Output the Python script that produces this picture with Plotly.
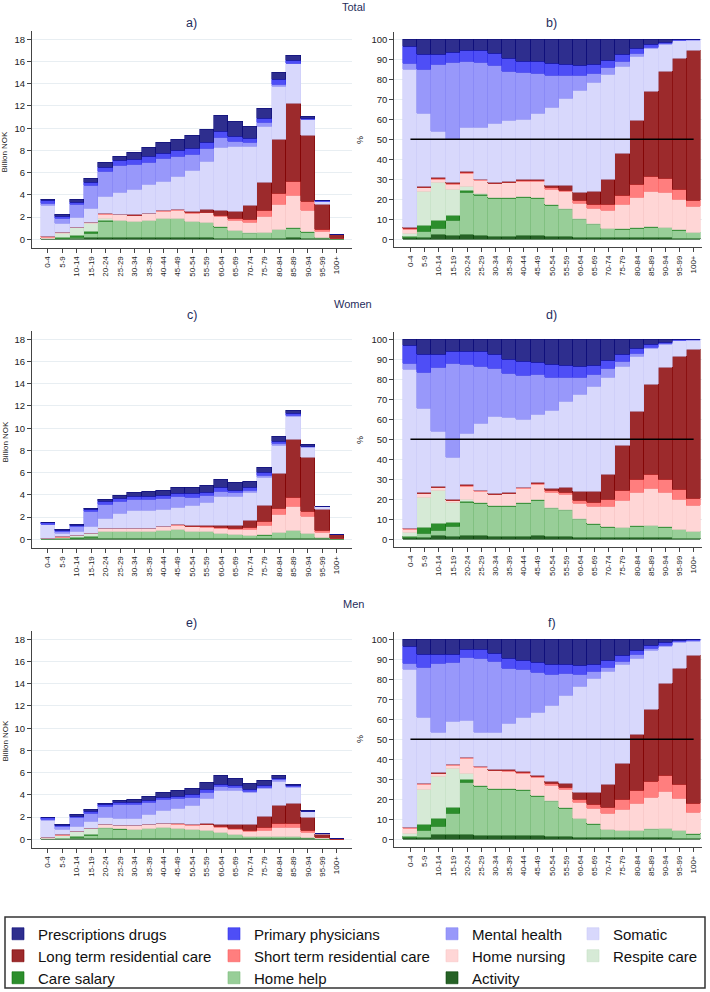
import plotly.graph_objects as go

W, H = 710, 992
FONT = "Arial, Liberation Sans, sans-serif"

ages = ["0-4", "5-9", "10-14", "15-19", "20-24", "25-29", "30-34", "35-39", "40-44",
        "45-49", "50-54", "55-59", "60-64", "65-69", "70-74", "75-79", "80-84",
        "85-89", "90-94", "95-99", "100+"]

# Layers, bottom to top of each stack
layers = ["Activity", "Home help", "Care salary", "Respite care", "Home nursing",
          "Short term residential care", "Long term residential care", "Somatic",
          "Mental health", "Primary physicians", "Prescriptions drugs"]

fill_colors = {
    "Activity": "rgb(38,98,38)",
    "Home help": "rgb(152,206,152)",
    "Care salary": "rgb(44,142,44)",
    "Respite care": "rgb(214,234,214)",
    "Home nursing": "rgb(255,214,214)",
    "Short term residential care": "rgb(255,126,126)",
    "Long term residential care": "rgb(156,42,44)",
    "Somatic": "rgb(216,216,252)",
    "Mental health": "rgb(152,152,250)",
    "Primary physicians": "rgb(78,78,246)",
    "Prescriptions drugs": "rgb(46,46,142)",
}
edge_colors = {
    "Activity": "rgb(10,70,10)",
    "Home help": "rgb(125,190,125)",
    "Care salary": "rgb(15,115,15)",
    "Respite care": "rgb(200,225,200)",
    "Home nursing": "rgb(248,200,200)",
    "Short term residential care": "rgb(250,95,95)",
    "Long term residential care": "rgb(128,0,0)",
    "Somatic": "rgb(205,205,248)",
    "Mental health": "rgb(135,135,245)",
    "Primary physicians": "rgb(50,50,235)",
    "Prescriptions drugs": "rgb(10,10,120)",
}

# Total cost (billion NOK) per age group
total_sum = [3.6, 2.2, 3.55, 5.45, 6.85, 7.45, 7.75, 8.2, 8.65, 9.0, 9.3, 9.9, 11.1, 10.6,
             10.15, 11.75, 15.0, 16.5, 11.05, 3.45, 0.45]
women_sum = [1.53, 0.84, 1.35, 2.8, 3.57, 3.93, 4.17, 4.29, 4.41, 4.62, 4.68, 4.83, 5.34, 5.07,
             5.16, 6.45, 9.24, 11.6, 8.49, 2.94, 0.4]
men_sum = [1.98, 1.35, 2.19, 2.64, 3.24, 3.45, 3.54, 3.84, 4.23, 4.35, 4.56, 5.1, 5.7, 5.49,
           4.98, 5.25, 5.76, 4.95, 2.55, 0.54, 0.06]

# Cumulative top edge (%) of each layer (top layer ends at 100)
total_cum_activity = [0.7, 0.8, 2.3, 2.0, 2.2, 1.8, 1.5, 1.5, 1.6, 1.7, 1.3, 1.1, 0.8, 0.7, 0.6, 0.6, 0.6, 0.8, 0.7, 0.5, 0.3]
total_cum_homehelp = [1.0, 3.7, 5.3, 9.3, 23.5, 22.0, 20.3, 20.3, 21.0, 20.3, 17.0, 14.7, 9.8, 7.3, 5.2, 5.0, 5.5, 6.0, 5.7, 4.5, 3.3]
total_cum_caresalary = [1.2, 6.8, 9.2, 11.8, 24.2, 22.4, 20.6, 20.6, 21.3, 20.6, 17.3, 15.0, 10.0, 7.5, 5.4, 5.2, 5.7, 6.2, 5.9, 4.6, 3.4]
total_cum_respite = [2.7, 24.0, 28.3, 25.0, 26.5, 22.6, 20.7, 20.7, 21.4, 20.7, 17.4, 15.1, 10.1, 7.6, 5.5, 5.3, 5.8, 6.3, 6.0, 4.7, 3.5]
total_cum_homenursing = [5.0, 25.6, 30.0, 27.5, 33.0, 29.5, 27.8, 28.2, 29.0, 29.0, 25.0, 24.0, 18.0, 15.5, 14.5, 17.5, 21.0, 24.0, 23.5, 20.0, 16.5]
total_cum_shortterm = [5.4, 26.0, 30.3, 27.8, 33.3, 29.7, 28.0, 28.4, 29.3, 29.5, 26.0, 24.5, 19.5, 17.5, 17.5, 22.0, 27.5, 31.5, 30.5, 25.0, 19.5]
total_cum_longterm = [5.7, 26.2, 30.7, 28.2, 33.7, 30.0, 28.3, 28.6, 29.6, 29.9, 27.0, 26.8, 23.5, 23.8, 29.7, 43.0, 59.5, 74.0, 84.0, 90.5, 94.5]
total_cum_somatic = [85, 63, 54, 50, 56, 56, 58, 59.5, 60, 63, 66, 70.5, 74.5, 78.5, 82.5, 86.5, 91.5, 95.5, 97.5, 99.2, 99.5]
total_cum_mental = [88, 85, 87.5, 88.5, 89, 88.5, 87, 84, 83.5, 83, 82, 82, 82, 83, 85.8, 89, 93, 96, 97.8, 99.3, 99.6]
total_cum_primary = [96.5, 92.5, 92.5, 93.5, 94.5, 94.5, 93, 90.5, 89, 89, 88, 87.5, 87, 87.5, 89.5, 92.5, 95.5, 97.5, 98.5, 99.6, 99.8]

women_cum_activity = [0.7, 0.6, 2.0, 1.3, 2.0, 1.6, 1.5, 1.4, 1.5, 1.7, 1.3, 1.1, 0.9, 0.7, 0.6, 0.6, 0.6, 0.7, 0.7, 0.5, 0.3]
women_cum_homehelp = [1.0, 3.0, 4.5, 6.3, 18.2, 17.8, 16.5, 16.3, 18.0, 19.3, 15.3, 14.3, 9.8, 7.5, 5.9, 5.6, 6.5, 6.7, 6.0, 4.7, 3.7]
women_cum_caresalary = [1.2, 6.0, 8.0, 8.3, 18.8, 18.4, 16.8, 16.6, 18.3, 19.6, 15.5, 14.5, 10.0, 7.7, 6.1, 5.8, 6.7, 6.9, 6.2, 4.8, 3.8]
women_cum_respite = [3.5, 21.0, 24.5, 18.3, 20.0, 18.5, 16.9, 16.7, 18.4, 19.7, 15.6, 14.6, 10.1, 7.8, 6.2, 5.9, 6.8, 7.0, 6.3, 4.9, 3.9]
women_cum_homenursing = [4.8, 22.7, 25.8, 19.2, 26.5, 24.0, 22.3, 22.6, 25.3, 27.3, 23.5, 22.5, 18.0, 16.3, 16.5, 19.5, 23.5, 25.5, 23.5, 20.0, 17.0]
women_cum_shortterm = [5.2, 23.0, 26.0, 19.4, 26.8, 24.2, 22.5, 22.9, 25.7, 27.7, 24.3, 23.5, 19.5, 18.2, 19.6, 24.5, 30.0, 32.5, 29.8, 25.0, 20.2]
women_cum_longterm = [5.4, 23.3, 26.3, 19.7, 27.1, 24.4, 22.7, 23.2, 26.0, 28.2, 25.3, 25.7, 23.7, 24.0, 32.5, 47.0, 64.0, 77.5, 86.0, 91.5, 95.0]
women_cum_somatic = [85, 65.5, 54, 41, 53, 58, 61.5, 61, 60, 62.5, 64.5, 69, 72.5, 76.5, 81, 86.5, 91.5, 95.5, 97.5, 99.2, 99.5]
women_cum_mental = [88, 83.5, 86, 88, 87.5, 86.5, 85.5, 83, 82, 82.5, 81, 81, 81, 82.5, 85.5, 89, 93, 96, 97.8, 99.3, 99.6]
women_cum_primary = [97, 92.5, 92.5, 94, 94, 94, 92.5, 90, 89, 88.5, 87.5, 87, 86.5, 87, 89.5, 92.5, 95.5, 97.5, 98.5, 99.6, 99.8]

men_cum_activity = [0.7, 1.0, 2.5, 2.5, 2.5, 2.0, 1.7, 1.7, 1.7, 1.6, 1.4, 1.1, 0.8, 0.7, 0.6, 0.6, 0.6, 0.7, 0.6, 0.5, 0.5]
men_cum_homehelp = [1.0, 4.5, 6.3, 12.8, 28.5, 26.3, 25.0, 25.0, 24.5, 21.5, 18.8, 15.5, 10.2, 7.5, 4.7, 4.2, 4.1, 4.8, 5.2, 4.3, 2.5]
men_cum_caresalary = [1.2, 7.5, 10.2, 16.0, 30.0, 26.8, 25.3, 25.3, 24.8, 21.7, 19.0, 15.7, 10.4, 7.7, 4.9, 4.4, 4.3, 5.0, 5.4, 4.4, 2.6]
men_cum_respite = [3.0, 25.0, 31.5, 35.5, 33.0, 27.0, 25.4, 25.4, 24.9, 21.8, 19.1, 15.8, 10.5, 7.8, 5.0, 4.5, 4.4, 5.1, 5.5, 4.5, 2.7]
men_cum_homenursing = [5.5, 27.5, 32.8, 37.0, 40.3, 36.0, 34.3, 34.0, 33.0, 31.0, 27.0, 25.0, 18.5, 15.5, 13.0, 15.0, 17.7, 21.0, 24.0, 20.5, 13.5]
men_cum_shortterm = [5.8, 27.8, 33.0, 37.2, 40.6, 36.2, 34.5, 34.3, 33.4, 31.5, 28.0, 25.7, 19.8, 17.5, 16.0, 20.0, 24.5, 29.0, 32.0, 27.3, 18.0]
men_cum_longterm = [6.0, 28.0, 33.3, 37.5, 41.0, 36.5, 34.8, 34.6, 33.8, 32.0, 29.0, 27.8, 23.3, 23.5, 27.3, 38.0, 52.5, 65.0, 78.0, 85.5, 92.0]
men_cum_somatic = [85, 61, 53.5, 59, 59.5, 53.5, 53.5, 58, 61, 63.5, 67, 72, 76.5, 80.5, 84, 87.3, 90.5, 94.5, 96.5, 98.5, 99.0]
men_cum_mental = [88, 86, 88, 88.5, 91, 90.5, 89, 85.5, 85, 83.5, 82.5, 83, 82.5, 84, 86, 89, 92.5, 95.5, 97, 98.7, 99.2]
men_cum_primary = [96.5, 92.5, 92.5, 92.5, 95, 95, 93, 90.5, 89.5, 88.5, 87.5, 87.5, 87, 87.5, 89.5, 92, 94.5, 97, 98.5, 99.2, 99.6]

ref_line_pct = 50

group_titles = ["Total", "Women", "Men"]
panel_titles = [("a)", "b)"), ("c)", "d)"), ("e)", "f)")]

groups = [
    (total_sum, [total_cum_activity, total_cum_homehelp, total_cum_caresalary, total_cum_respite,
                 total_cum_homenursing, total_cum_shortterm, total_cum_longterm, total_cum_somatic,
                 total_cum_mental, total_cum_primary]),
    (women_sum, [women_cum_activity, women_cum_homehelp, women_cum_caresalary, women_cum_respite,
                 women_cum_homenursing, women_cum_shortterm, women_cum_longterm, women_cum_somatic,
                 women_cum_mental, women_cum_primary]),
    (men_sum, [men_cum_activity, men_cum_homehelp, men_cum_caresalary, men_cum_respite,
               men_cum_homenursing, men_cum_shortterm, men_cum_longterm, men_cum_somatic,
               men_cum_mental, men_cum_primary]),
]

# Legend arrangement (column, row)
legend_pos = {
    "Prescriptions drugs": (0, 0), "Primary physicians": (1, 0), "Mental health": (2, 0), "Somatic": (3, 0),
    "Long term residential care": (0, 1), "Short term residential care": (1, 1), "Home nursing": (2, 1),
    "Respite care": (3, 1), "Care salary": (0, 2), "Home help": (1, 2), "Activity": (2, 2),
}
legend_text_x = [38, 254, 472, 613]
legend_row_y = [934, 956, 978]


def shares_from_cum(cums):
    tops = list(cums) + [[100.0] * len(ages)]
    out = []
    prev = [0.0] * len(ages)
    for t in tops:
        out.append([max(a - b, 0.0) for a, b in zip(t, prev)])
        prev = t
    return out


fig = go.Figure()

legend_keys = {}
for i, name in enumerate(layers):
    legend_keys[name] = "legend" if i == 0 else f"legend{i + 1}"

for g, (sums, cums) in enumerate(groups):
    shares = shares_from_cum(cums)
    ax_abs = 2 * g + 1
    ax_pct = 2 * g + 2
    for li, name in enumerate(layers):
        pct = shares[li]
        absval = [p * s / 100.0 for p, s in zip(pct, sums)]
        for axn, vals in ((ax_abs, absval), (ax_pct, pct)):
            fig.add_trace(go.Bar(
                x=ages, y=vals, name=name,
                xaxis="x" if axn == 1 else f"x{axn}",
                yaxis="y" if axn == 1 else f"y{axn}",
                marker=dict(color=fill_colors[name],
                            line=dict(color=edge_colors[name], width=0.6)),
                width=1.0,
                showlegend=(g == 0 and axn == 1),
                legend=legend_keys[name],
                hovertemplate="%{x}: %{y:.2f}<extra>" + name + "</extra>",
            ))
    fig.add_trace(go.Scatter(
        x=[ages[0], ages[-1]], y=[ref_line_pct, ref_line_pct], mode="lines",
        line=dict(color="black", width=1.4), showlegend=False, hoverinfo="skip",
        xaxis=f"x{ax_pct}", yaxis=f"y{ax_pct}",
    ))


def py(px):
    return 1 - px / H


layout = dict(
    width=W, height=H, barmode="stack", bargap=0,
    paper_bgcolor="white", plot_bgcolor="white",
    margin=dict(l=0, r=0, t=0, b=0, autoexpand=False),
    font=dict(family=FONT, color="#222"),
    shapes=[], annotations=[],
)

abs_xdom = [32 / W, 352 / W]
pct_xdom = [394.3 / W, 701.7 / W]
row_off = [0, 300, 600]

axis_common = dict(showline=True, linecolor="#444", linewidth=1, ticks="outside",
                   tickcolor="#444", ticklen=4, mirror=False, zeroline=False)

for g in range(3):
    a = 2 * g + 1
    b = 2 * g + 2
    off = row_off[g]
    xa = "xaxis" if a == 1 else f"xaxis{a}"
    ya = "yaxis" if a == 1 else f"yaxis{a}"
    layout[xa] = dict(axis_common, domain=abs_xdom, range=[-1.1, 21.05], type="category",
                      anchor="y" if a == 1 else f"y{a}", tickangle=-90,
                      tickfont=dict(size=8, family=FONT, color="#222"), showgrid=False)
    layout[ya] = dict(axis_common, domain=[py(248 + off), py(30.7 + off)], range=[-0.78, 18.77],
                      anchor="x" if a == 1 else f"x{a}", tickvals=list(range(0, 19, 2)),
                      tickfont=dict(size=9.5, family=FONT, color="#222"),
                      showgrid=True, gridcolor="#e8eef2", gridwidth=1)
    layout[f"xaxis{b}"] = dict(axis_common, domain=pct_xdom, range=[-1.14, 20.57], type="category",
                               anchor=f"y{b}", tickangle=-90,
                               tickfont=dict(size=8, family=FONT, color="#222"), showgrid=False)
    layout[f"yaxis{b}"] = dict(axis_common, domain=[py(247.3 + off), py(31.7 + off)], range=[-4, 103.8],
                               anchor=f"x{b}", tickvals=list(range(0, 101, 10)),
                               tickfont=dict(size=9.5, family=FONT, color="#222"),
                               showgrid=True, gridcolor="#e8eef2", gridwidth=1)

title_y = [(7, 23.3), (304, 315), (604, 622.7)]
ytitle_y = [(152, 140), (442, 440), (741, 739)]
for g in range(3):
    gy, py_ = title_y[g]
    layout["annotations"].append(dict(text=group_titles[g], x=353 / W, y=py(gy), xref="paper", yref="paper",
                                      showarrow=False, xanchor="center", yanchor="middle",
                                      font=dict(size=11, color="#1f2d5c", family=FONT)))
    layout["annotations"].append(dict(text=panel_titles[g][0], x=192 / W, y=py(py_), xref="paper", yref="paper",
                                      showarrow=False, xanchor="center", yanchor="middle",
                                      font=dict(size=12.5, color="#1f2d5c", family=FONT)))
    layout["annotations"].append(dict(text=panel_titles[g][1], x=551.7 / W, y=py(py_), xref="paper", yref="paper",
                                      showarrow=False, xanchor="center", yanchor="middle",
                                      font=dict(size=12.5, color="#1f2d5c", family=FONT)))
    ya1, ya2 = ytitle_y[g]
    layout["annotations"].append(dict(text="Billion NOK", x=4.5 / W, y=py(ya1), xref="paper", yref="paper",
                                      showarrow=False, textangle=-90, xanchor="center", yanchor="middle",
                                      font=dict(size=8, color="#222", family=FONT)))
    layout["annotations"].append(dict(text="%", x=360 / W, y=py(ya2), xref="paper", yref="paper",
                                      showarrow=False, textangle=-90, xanchor="center", yanchor="middle",
                                      font=dict(size=9, color="#222", family=FONT)))

# Legend frame
layout["shapes"].append(dict(type="rect", xref="paper", yref="paper", x0=5 / W, x1=705 / W,
                             y0=py(988), y1=py(917), line=dict(color="#333", width=1.5),
                             fillcolor="rgba(0,0,0,0)"))

for name in layers:
    col, row = legend_pos[name]
    layout[legend_keys[name]] = dict(
        x=(legend_text_x[col] - 40) / W, y=py(legend_row_y[row]), xref="paper", yref="paper",
        xanchor="left", yanchor="middle", bgcolor="rgba(0,0,0,0)", borderwidth=0,
        font=dict(size=15, family=FONT, color="#111"), itemwidth=30,
    )

fig.update_layout(**layout)
fig.write_html("out.html",
               config={"displayModeBar": False},
               post_script="document.body.style.margin='0';document.body.style.padding='0';"
                           "document.documentElement.style.overflow='hidden';")
